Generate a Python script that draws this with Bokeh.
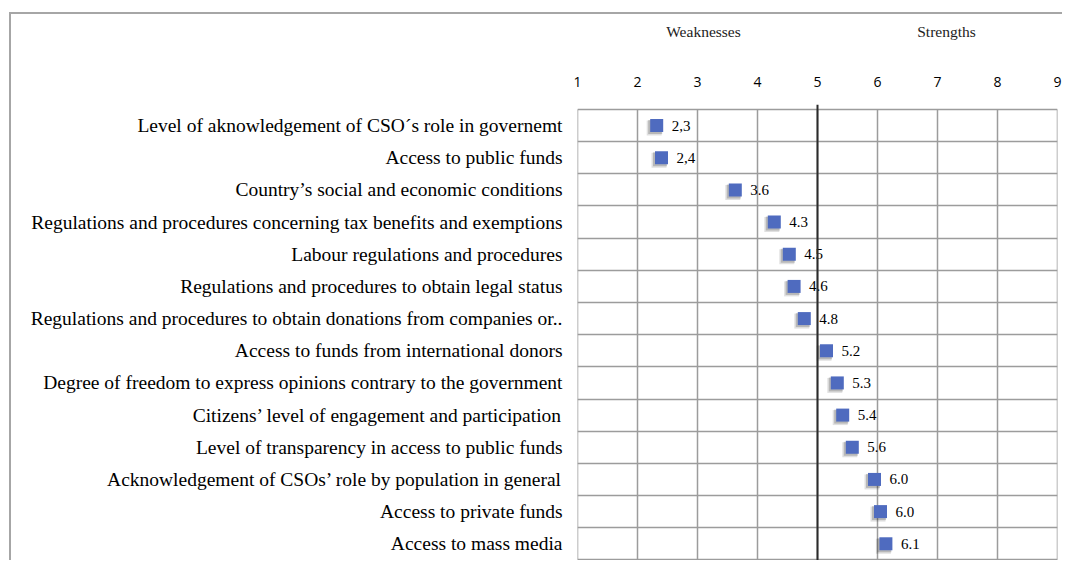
from bokeh.plotting import figure
from bokeh.models import FixedTicker, Range1d, Span, ColumnDataSource, LinearAxis, InlineStyleSheet
from bokeh.embed import file_html
from bokeh.resources import INLINE
from bokeh.core.properties import value

items = [
    "Level of aknowledgement of CSO\u00b4s role in governemt",
    "Access to public funds",
    "Country\u2019s social and economic conditions",
    "Regulations and procedures concerning tax benefits and exemptions",
    "Labour regulations and procedures",
    "Regulations and procedures to obtain legal status",
    "Regulations and procedures to obtain donations from companies or..",
    "Access to funds from international donors",
    "Degree of freedom to express opinions contrary to the government",
    "Citizens\u2019 level of engagement and participation",
    "Level of transparency in access to public funds",
    "Acknowledgement of CSOs\u2019 role by population in general",
    "Access to private funds",
    "Access to mass media",
]
scores = [2.32, 2.40, 3.63, 4.28, 4.53, 4.61, 4.78, 5.15, 5.33, 5.42, 5.58, 5.95, 6.05, 6.14]
score_labels = ["2,3", "2,4", "3.6", "4.3", "4.5", "4.6", "4.8", "5.2", "5.3", "5.4", "5.6", "6.0", "6.0", "6.1"]
x_ticks = [1, 2, 3, 4, 5, 6, 7, 8, 9]
threshold = 5
side_labels = ["Weaknesses", "Strengths"]
side_label_x = [3.1, 7.15]

n = len(items)
rows = [n - 1 - i for i in range(n)]  # first item on top

p = figure(width=1062, height=560, output_backend="svg", toolbar_location=None,
           x_range=Range1d(1, 9), y_range=Range1d(-0.52, 13.655),
           x_axis_location="above",
           min_border_left=577, min_border_right=5, min_border_top=104, min_border_bottom=0)
p.outline_line_color = None
p.background_fill_color = "white"
p.border_fill_color = "white"

# grid
p.xgrid.visible = False
p.ygrid.ticker = FixedTicker(ticks=[r + 0.5 for r in range(-1, n)])
p.ygrid.grid_line_color = "#9c9c9c"
p.ygrid.grid_line_width = 1.5
p.segment(x0=x_ticks, y0=[-0.5] * len(x_ticks), x1=x_ticks, y1=[n - 0.5] * len(x_ticks),
          line_color="#9c9c9c", line_width=1.5)

p.add_layout(Span(location=threshold, dimension="height", line_color="#2b2b2b", line_width=2))

# top axis
xa = p.xaxis[0]
xa.ticker = FixedTicker(ticks=x_ticks)
xa.axis_line_color = None
xa.major_tick_line_color = None
xa.minor_tick_line_color = None
xa.major_tick_out = 0
xa.major_tick_in = 0
xa.major_label_standoff = 18
xa.major_label_text_font = "Open Sans"
xa.major_label_text_font_size = "14px"
xa.major_label_text_color = "black"

# header axis (Weaknesses / Strengths)
scale = 20
p.extra_x_ranges = {"hdr": Range1d(1 * scale, 9 * scale)}
hdr_ticks = [int(round(v * scale)) for v in side_label_x]
ha = LinearAxis(x_range_name="hdr", ticker=FixedTicker(ticks=hdr_ticks))
ha.major_label_overrides = {t: lab for t, lab in zip(hdr_ticks, side_labels)}
ha.axis_line_color = None
ha.major_tick_line_color = None
ha.minor_tick_line_color = None
ha.major_tick_out = 0
ha.major_tick_in = 0
ha.major_label_standoff = 34
ha.major_label_text_font = "Liberation Serif"
ha.major_label_text_font_size = "15.5px"
ha.major_label_text_color = "#222222"
p.add_layout(ha, "above")

# left axis
ya = p.yaxis[0]
ya.ticker = FixedTicker(ticks=rows)
ya.major_label_overrides = {r: lab for r, lab in zip(rows, items)}
ya.axis_line_color = None
ya.major_tick_line_color = None
ya.minor_tick_line_color = None
ya.major_tick_out = 0
ya.major_tick_in = 0
ya.major_label_standoff = 15
ya.major_label_text_font = "Liberation Serif"
ya.major_label_text_font_size = "19.5px"
ya.major_label_text_color = "black"

src = ColumnDataSource(dict(
    x=scores, y=rows, lab=score_labels,
    sx1=[s - 2.5 / 60 for s in scores], sy1=[r - 2.5 / 32.2 for r in rows],
    sx2=[s - 1.5 / 60 for s in scores], sy2=[r - 1.5 / 32.2 for r in rows],
))
p.scatter("sx1", "sy1", source=src, marker="square", size=15, fill_color="#000000",
          fill_alpha=0.12, line_color=None)
p.scatter("sx2", "sy2", source=src, marker="square", size=14, fill_color="#000000",
          fill_alpha=0.18, line_color=None)
p.scatter("x", "y", source=src, marker="square", size=13, fill_color="#4f6bbf", line_color=None)
p.text("x", "y", text="lab", source=src, x_offset=15, text_baseline="middle", text_align="left",
       text_font=value("Liberation Serif"), text_font_size="15px", text_color="black")

p.stylesheets = [InlineStyleSheet(css="""
:host { position: relative; }
:host::after { content: ''; position: absolute; left: 9px; top: 12px; right: 0px; bottom: 0px;
  border-top: 2px solid #a6a6a6; border-left: 2px solid #a6a6a6; pointer-events: none; }
""")]

open("out.html", "w").write(file_html(p, INLINE))
